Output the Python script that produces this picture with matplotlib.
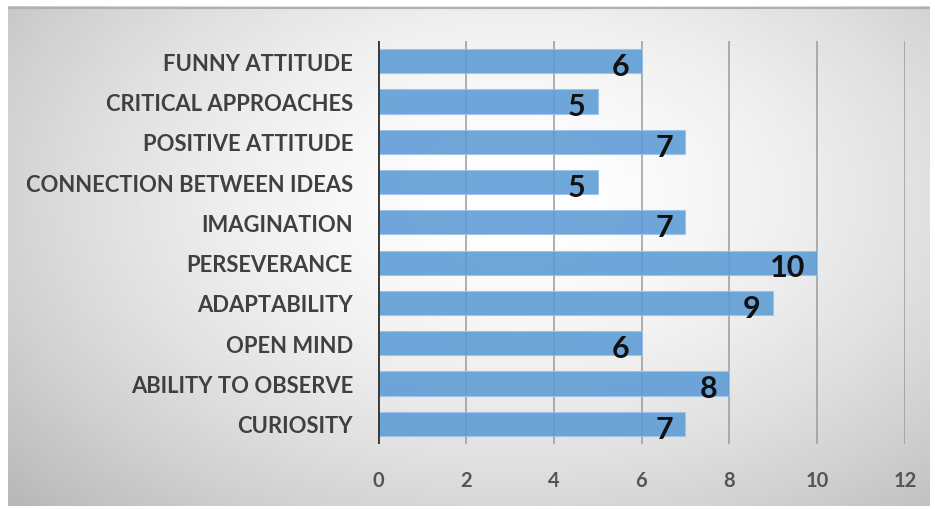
import matplotlib.pyplot as plt
import numpy as np

# data (top to bottom in the picture)
skills = ["FUNNY ATTITUDE", "CRITICAL APPROACHES", "POSITIVE ATTITUDE",
          "CONNECTION BETWEEN IDEAS", "IMAGINATION", "PERSEVERANCE",
          "ADAPTABILITY", "OPEN MIND", "ABILITY TO OBSERVE", "CURIOSITY"]
counts = [6, 5, 7, 5, 7, 10, 9, 6, 8, 7]
x_ticks = [0, 2, 4, 6, 8, 10, 12]

plt.rcParams["font.family"] = ["Lato", "DejaVu Sans"]

fig = plt.figure(figsize=(9.35, 5.10), dpi=100)

# gray radial gradient panel behind the chart
bg = fig.add_axes([8 / 935, 3 / 510, 922 / 935, 500 / 510])
gx, gy = np.meshgrid(np.linspace(0, 1, 300), np.linspace(0, 1, 200))
rr = np.sqrt(((gx - 0.55) / 0.75) ** 2 + ((gy - 0.62) / 0.9) ** 2)
shade = np.clip(1.0 - 0.28 * rr ** 1.6, 0.72, 1.0)
bg.imshow(shade, cmap="gray", vmin=0, vmax=1, aspect="auto",
          extent=[0, 1, 0, 1], origin="lower")
bg.plot([0, 1], [0.997, 0.997], color="#b0b0b0", lw=1.5)
bg.set_xlim(0, 1)
bg.set_ylim(0, 1)
bg.axis("off")

ax = fig.add_axes([378 / 935, 1 - 445 / 510, (905 - 378) / 935, (445 - 42) / 510])
ax.patch.set_alpha(0)

ypos = np.arange(len(skills))
ax.barh(ypos, counts, height=0.6, color="#5b9bd5", alpha=0.88,
        edgecolor="#9cc3ea", linewidth=0.8, zorder=2)

# value labels, inside the bar end
for y, v in zip(ypos, counts):
    ax.text(v - 0.28, y + 0.12, str(v), ha="right", va="center",
            fontsize=22, fontweight="bold", color="#111111", zorder=3)

ax.set_xlim(0, 12)
ax.set_ylim(len(skills) - 0.5, -0.5)
ax.set_xticks(x_ticks)
ax.set_yticks(ypos)
ax.set_yticklabels(skills)

for t in x_ticks[1:]:
    ax.axvline(t, color="#9a9a9a", lw=1.1, zorder=1)
ax.axvline(0, color="#3a3a3a", lw=2.8, zorder=3)

for s in ax.spines.values():
    s.set_visible(False)
ax.tick_params(axis="both", length=0)
ax.tick_params(axis="y", pad=18, labelsize=15.8, labelcolor="#404040")
ax.tick_params(axis="x", pad=19, labelsize=14.5, labelcolor="#555555")
for lab in ax.get_yticklabels() + ax.get_xticklabels():
    lab.set_fontweight("bold")

fig.savefig("out.png", dpi=100)
